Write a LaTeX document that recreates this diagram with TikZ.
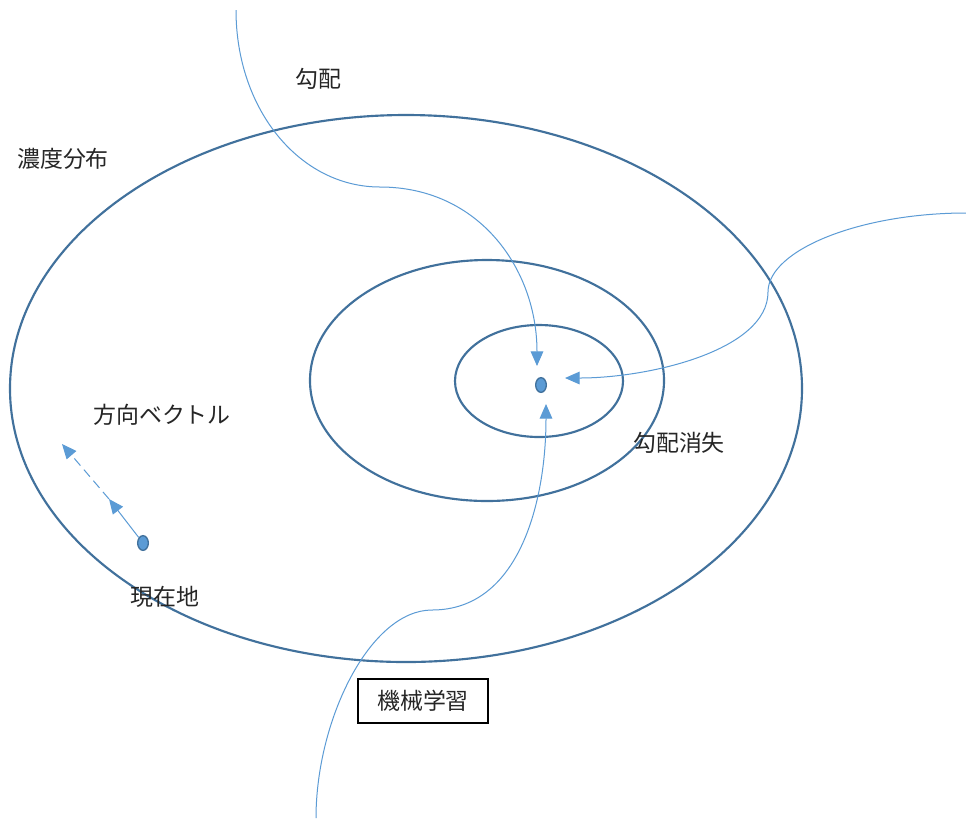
\documentclass[tikz,border=0pt]{standalone}
\usepackage{fontspec}
\setmainfont{Noto Sans CJK JP}
\usetikzlibrary{arrows.meta,shapes.geometric}
\definecolor{ringblue}{HTML}{41719C}
\definecolor{lineblue}{HTML}{5B9BD5}
\begin{document}
\begin{tikzpicture}[x=0.75pt,y=-0.75pt,
  ring/.style={draw=ringblue,line width=1.6pt},
  flow/.style={draw=lineblue,line width=0.75pt,-{Triangle[length=11pt,width=9.5pt,fill=lineblue]}},
  dot/.style={ellipse,draw=ringblue,fill=lineblue,line width=1pt,minimum width=8pt,minimum height=11pt,inner sep=0pt},
  lbl/.style={font=\fontsize{17.2}{20}\selectfont,text=black!85,inner sep=0pt},
  box/.style={draw=black,line width=1pt,minimum width=97.5pt,minimum height=33pt,font=\fontsize{17.2}{20}\selectfont,text=black!85}]
\useasboundingbox (0,0) rectangle (966,819);
\fill[white] (0,0) rectangle (966,819);
% rings
\draw[ring] (406,388.5) ellipse [x radius=396, y radius=273.5];
\draw[ring] (487,380.5) ellipse [x radius=177, y radius=120.5];
\draw[ring] (539,381) ellipse [x radius=84, y radius=56];
% dots
\node[dot] (goal) at (541,385) {};
\node[dot] (cur) at (143,543) {};
% coordinates
\coordinate (gs) at (236,10);
\coordinate (gt) at (537,366);
\coordinate (rs) at (966,213);
\coordinate (rt) at (565,378);
\coordinate (bs) at (316,818);
\coordinate (bt) at (546,404);
\coordinate (v1) at (109,499);
\coordinate (v2) at (62,444);
% curves
\draw[flow] (gs) .. controls (236,110) and (300,187) .. (380,187) .. controls (480,187) and (537,270) .. (gt);
\draw[flow] (rs) .. controls (860,213) and (768,250) .. (768,292) .. controls (768,350) and (650,378) .. (rt);
\draw[flow] (bs) .. controls (316,720) and (370,610) .. (432,610) .. controls (520,610) and (546,500) .. (bt);
% direction vector
\draw[flow] (cur) -- (v1);
\draw[flow,dash pattern=on 7pt off 4pt] (v1) -- (v2);
% labels
\node[lbl] (l1) at (318,79) {勾配};
\node[lbl] (l2) at (63,159) {濃度分布};
\node[lbl] (l3) at (162,415) {方向ベクトル};
\node[lbl] (l4) at (165,597) {現在地};
\node[lbl] (l5) at (679,443) {勾配消失};
\node[box] (ml) at (423,701) {機械学習};
\end{tikzpicture}
\end{document}
